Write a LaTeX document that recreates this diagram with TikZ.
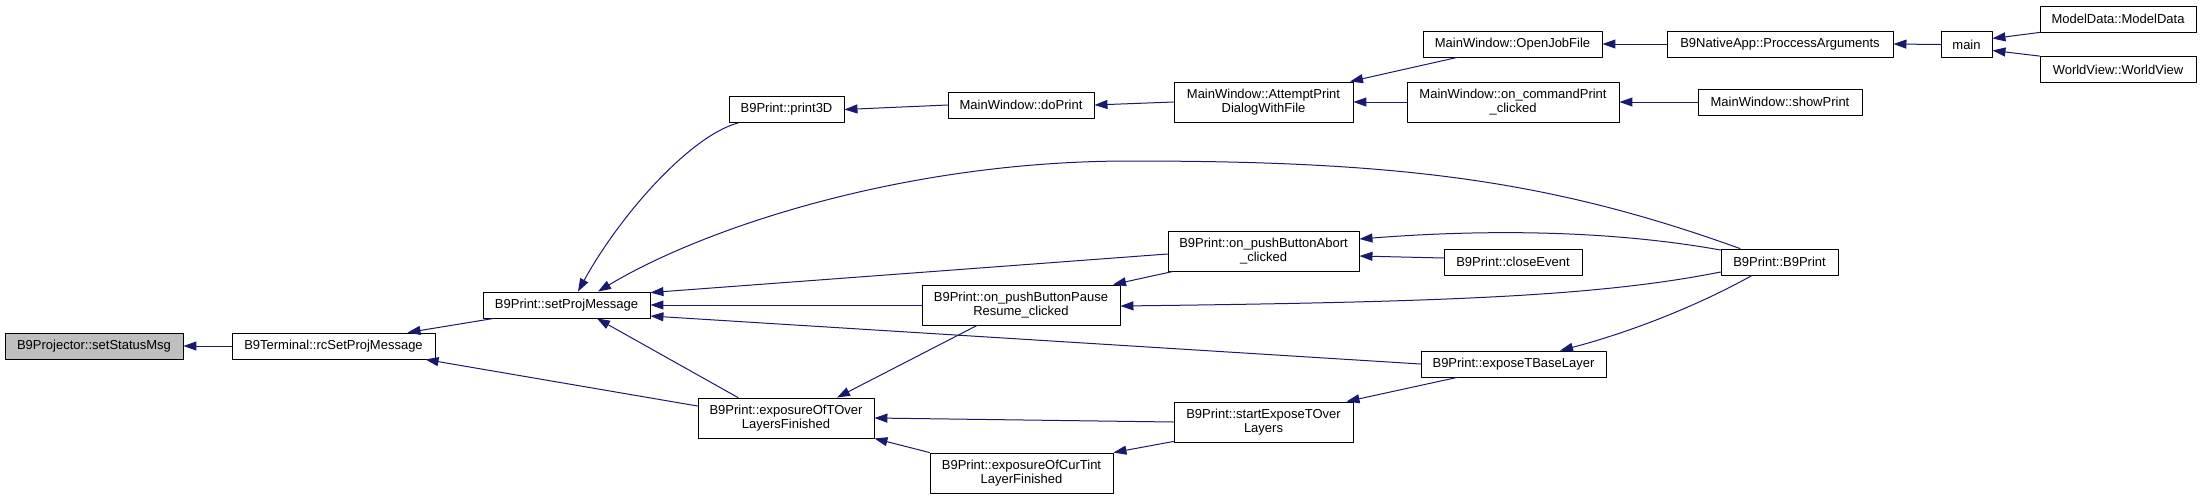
\documentclass[tikz,border=0pt]{standalone}
\usepackage{fontspec}
\usepackage{tikz}
\usetikzlibrary{arrows.meta}
\newfontfamily\dxfont{Liberation Sans}
\definecolor{edgeblue}{HTML}{191970}

\begin{document}
\begin{tikzpicture}[x=1pt, y=-1pt, line cap=round, line join=round,
	fn/.style={draw=black, fill=white, line width=0.9pt, inner sep=0pt, align=center,
		minimum height=26pt, font=\dxfont\fontsize{13}{14}\selectfont},
	fn2/.style={fn, minimum height=40pt},
	call/.style={-{Triangle[length=13pt,width=9pt]}, draw=edgeblue, line width=1pt}]
	\useasboundingbox (0,0) rectangle (2203,499);
	% nodes, column by column
	\node[fn, fill=black!25, minimum width=178pt] (status) at (94,346) {B9Projector::setStatusMsg};
	\node[fn, minimum width=203pt] (rcset) at (333.5,346) {B9Terminal::rcSetProjMessage};
	\node[fn, minimum width=167pt] (setproj) at (566.5,305) {B9Print::setProjMessage};
	\node[fn, minimum width=115pt] (print3d) at (786.5,109.5) {B9Print::print3D};
	\node[fn2, minimum width=176pt] (exptover) at (786,418) {B9Print::exposureOfTOver\\LayersFinished};
	\node[fn, minimum width=146pt] (doprint) at (1021,105) {MainWindow::doPrint};
	\node[fn2, minimum width=198pt] (pause) at (1021,305) {B9Print::on\_pushButtonPause\\Resume\_clicked};
	\node[fn2, minimum width=183pt] (curtint) at (1021.5,473) {B9Print::exposureOfCurTint\\LayerFinished};
	\node[fn2, minimum width=179pt] (attempt) at (1263.5,102) {MainWindow::AttemptPrint\\DialogWithFile};
	\node[fn2, minimum width=191pt] (abort) at (1263.5,251) {B9Print::on\_pushButtonAbort\\\_clicked};
	\node[fn2, minimum width=179pt] (startexp) at (1263.5,422) {B9Print::startExposeTOver\\Layers};
	\node[fn, minimum width=179pt] (openjob) at (1512.5,44) {MainWindow::OpenJobFile};
	\node[fn2, minimum width=212pt] (cmdprint) at (1513,102) {MainWindow::on\_commandPrint\\\_clicked};
	\node[fn, minimum width=138pt] (closeev) at (1513,262) {B9Print::closeEvent};
	\node[fn, minimum width=185pt] (basel) at (1513.5,364) {B9Print::exposeTBaseLayer};
	\node[fn, minimum width=226pt] (procargs) at (1780,44) {B9NativeApp::ProccessArguments};
	\node[fn, minimum width=164pt] (showprint) at (1780,102) {MainWindow::showPrint};
	\node[fn, minimum width=117pt] (b9print) at (1779.5,262) {B9Print::B9Print};
	\node[fn, minimum width=51pt] (mainfn) at (1966.5,44.5) {main};
	\node[fn, minimum width=156pt] (modeldata) at (2118,19) {ModelData::ModelData};
	\node[fn, minimum width=156pt] (worldview) at (2118,69.5) {WorldView::WorldView};
	% calls, arrow at the callee
	\draw[call] (rcset.west) -- (status.east);
	\draw[call] ([xshift=-73pt]setproj.south) -- ([xshift=74pt]rcset.north);
	\draw[call] ([yshift=12pt]exptover.west) -- ([xshift=92pt]rcset.south);
	\draw[call] ([xshift=-48.5pt]print3d.south) .. controls (690,136) and (620,215) .. ([xshift=11.5pt]setproj.north);
	\draw[call] ([xshift=-39.5pt]b9print.north) .. controls (1550,180) and (1400,161) .. (1130,161)
		.. controls (900,161) and (700,230) .. ([xshift=31.5pt]setproj.north);
	\draw[call] ([yshift=-3pt]abort.west) -- ([yshift=-1pt]setproj.north east);
	\draw[call] (pause.west) -- (setproj.east);
	\draw[call] (basel.west) -- ([yshift=-11pt]setproj.east);
	\draw[call] ([xshift=-48pt]exptover.north) -- ([xshift=30.5pt]setproj.south);
	\draw[call] (doprint.west) -- (print3d.east);
	\draw[call] (attempt.west) -- (doprint.east);
	\draw[call] ([xshift=-55.5pt]openjob.south) -- ([xshift=86.5pt]attempt.north);
	\draw[call] (cmdprint.west) -- (attempt.east);
	\draw[call] (procargs.west) -- (openjob.east);
	\draw[call] (mainfn.west) -- (procargs.east);
	\draw[call] (modeldata.south west) -- ([yshift=6pt]mainfn.east);
	\draw[call] (worldview.north west) -- ([yshift=-6pt]mainfn.east);
	\draw[call] (showprint.west) -- (cmdprint.east);
	\draw[call] ([xshift=-90.5pt]abort.south) -- ([xshift=92pt]pause.north);
	\draw[call] ([yshift=-10pt]b9print.west) .. controls (1600,296) and (1450,302) .. ([yshift=-1pt]pause.east);
	\draw[call] ([yshift=12pt]b9print.west) .. controls (1620,232) and (1500,228) .. ([yshift=12pt]abort.east);
	\draw[call] ([yshift=4pt]closeev.west) -- ([yshift=-5pt]abort.east);
	\draw[call] ([xshift=-27.5pt]b9print.south) .. controls (1690,310) and (1620,335) .. ([xshift=46.5pt]basel.north);
	\draw[call] ([xshift=-56.5pt]basel.south) -- ([xshift=83pt]startexp.north);
	\draw[call] (startexp.west) -- (exptover.east);
	\draw[call] ([yshift=1pt]startexp.south west) -- (curtint.north east);
	\draw[call] (curtint.north west) -- (exptover.south east);
	\draw[call] ([xshift=-44pt]pause.south) -- ([xshift=51pt]exptover.north);
\end{tikzpicture}
\end{document}
